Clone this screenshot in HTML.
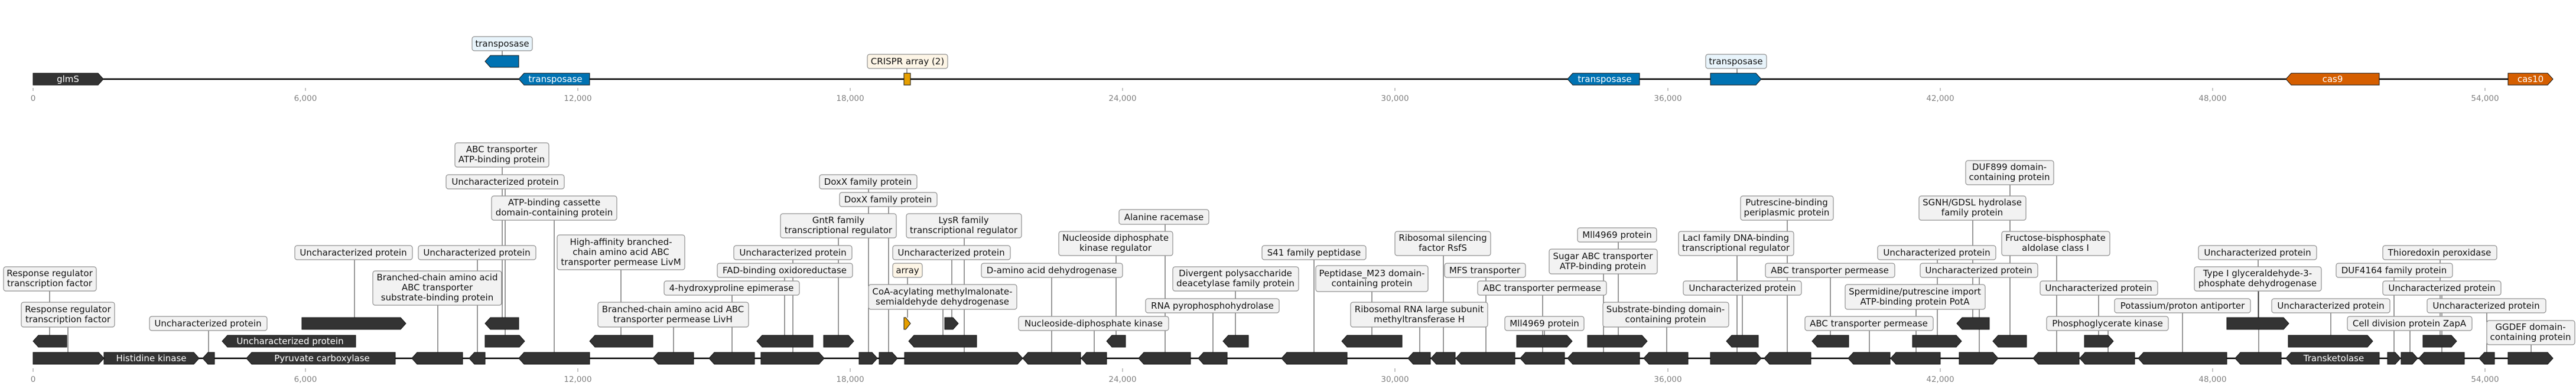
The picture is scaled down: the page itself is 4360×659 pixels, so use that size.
<!DOCTYPE html>
<html><head><meta charset="utf-8"><style>
html,body{margin:0;padding:0;background:#fff;}
svg{display:block;}
.t{font-family:"DejaVu Sans","Liberation Sans",sans-serif;font-size:15px;fill:#111;text-anchor:middle;}
.w{font-family:"DejaVu Sans","Liberation Sans",sans-serif;font-size:15px;fill:#fff;text-anchor:middle;}
.ax{font-family:"DejaVu Sans","Liberation Sans",sans-serif;font-size:13.5px;fill:#808080;text-anchor:middle;}
.g{fill:#333;stroke:#111;stroke-width:1;}
.b{fill:#f2f2f2;stroke:#8f8f8f;stroke-width:1.2;}
.bb{fill:#e8f4fb;stroke:#8f8f8f;stroke-width:1.2;}
.bc{fill:#fdf5e6;stroke:#8f8f8f;stroke-width:1.2;}
</style></head><body>
<svg width="4360" height="659" viewBox="0 0 4360 659" xmlns="http://www.w3.org/2000/svg">
<!-- backbones -->
<line x1="56" y1="134" x2="4321" y2="134" stroke="#000" stroke-width="2.5"/>
<line x1="56" y1="607" x2="4321" y2="607" stroke="#000" stroke-width="2.5"/>
<!-- ticks -->
<g stroke="#888" stroke-width="1">
<path d="M56 149V154M517 149V154M978 149V154M1439 149V154M1900 149V154M2361 149V154M2823 149V154M3284 149V154M3745 149V154M4206 149V154"/>
<path d="M56 624V630M517 624V630M978 624V630M1439 624V630M1900 624V630M2361 624V630M2823 624V630M3284 624V630M3745 624V630M4206 624V630"/>
</g>
<g class="ax">
<text x="56" y="171">0</text><text x="517" y="171">6,000</text><text x="978" y="171">12,000</text><text x="1439" y="171">18,000</text><text x="1900" y="171">24,000</text><text x="2361" y="171">30,000</text><text x="2823" y="171">36,000</text><text x="3284" y="171">42,000</text><text x="3745" y="171">48,000</text><text x="4206" y="171">54,000</text>
<text x="56" y="647">0</text><text x="517" y="647">6,000</text><text x="978" y="647">12,000</text><text x="1439" y="647">18,000</text><text x="1900" y="647">24,000</text><text x="2361" y="647">30,000</text><text x="2823" y="647">36,000</text><text x="3284" y="647">42,000</text><text x="3745" y="647">48,000</text><text x="4206" y="647">54,000</text>
</g>
<!-- connectors -->
<g stroke="#333" stroke-width="1" fill="none">
<path d="M850 86V94M1535 116V124M2940 116V124"/>
<path d="M84 493V568M115 554V597M353 560V597M600 440V538M808 440V597M741 517V597M850 283V538M855 320V568M938 373V597M1051 457V568M1140 554V597M1239 500V597M1328 470V568M1342 440V597M1419 403V568M1470 320V597M1504 350V597M1632 403V597M1611 440V538M1536 470V538M1596 524V568M1780 470V597M1852 560V597M1889 433V568M1972 380V597M2053 530V597M2091 493V568M2224 440V597M2322 494V568M2403 554V597M2443 433V597M2515 470V597M2611 500V597M2614 560V568M2739 410V568M2714 464V597M2821 554V597M2940 433V597M2949 500V568M3025 373V597M3098 470V568M3164 560V597M3243 524V597M3279 440V568M3350 470V597M3339 373V538M3402 313V568M3481 433V597M3552 500V568M3694 530V597M3568 560V597M3822 440V538M3823 493V597M3945 530V568M4130 440V568M4052 470V597M4133 500V597M4079 560V597M4209 530V597M4284 584V597"/>
</g>
<!-- top genes -->
<polygon class="g" points="56,124 166,124 175,134 166,144 56,144"/>
<polygon points="821,104 830,94 878,94 878,114 830,114" fill="#0072b2" stroke="#111"/>
<polygon points="878,134 887,124 998,124 998,144 887,144" fill="#0072b2" stroke="#111"/>
<rect x="1530" y="124" width="11" height="20" fill="#e69f00" stroke="#111"/>
<polygon points="2653,134 2662,124 2775,124 2775,144 2662,144" fill="#0072b2" stroke="#111"/>
<polygon points="2895,124 2972,124 2981,134 2972,144 2895,144" fill="#0072b2" stroke="#111"/>
<polygon points="3869,134 3878,124 4027,124 4027,144 3878,144" fill="#d55e00" stroke="#111"/>
<polygon points="4245,124 4312,124 4321,134 4312,144 4245,144" fill="#d55e00" stroke="#111"/>
<g class="w"><text x="115" y="139">glmS</text><text x="940" y="139">transposase</text><text x="2716" y="139">transposase</text><text x="3948" y="139">cas9</text><text x="4283" y="139">cas10</text></g>
<!-- bottom genes -->
<g class="g">
<polygon points="56,597 167,597 176,607 167,617 56,617"/>
<polygon points="176,597 328,597 337,607 328,617 176,617"/>
<polygon points="343,607 352,597 363,597 363,617 352,617"/>
<polygon points="417,607 426,597 669,597 669,617 426,617"/>
<polygon points="697,607 706,597 783,597 783,617 706,617"/>
<polygon points="794,607 803,597 821,597 821,617 803,617"/>
<polygon points="878,607 887,597 998,597 998,617 887,617"/>
<polygon points="1105,607 1114,597 1174,597 1174,617 1114,617"/>
<polygon points="1200,607 1209,597 1277,597 1277,617 1209,617"/>
<polygon points="1288,597 1386,597 1395,607 1386,617 1288,617"/>
<polygon points="1454,597 1476,597 1485,607 1476,617 1454,617"/>
<polygon points="1488,597 1510,597 1519,607 1510,617 1488,617"/>
<polygon points="1531,597 1722,597 1731,607 1722,617 1531,617"/>
<polygon points="1731,607 1740,597 1829,597 1829,617 1740,617"/>
<polygon points="1830,607 1839,597 1873,597 1873,617 1839,617"/>
<polygon points="1927,607 1936,597 2015,597 2015,617 1936,617"/>
<polygon points="2028,607 2037,597 2077,597 2077,617 2037,617"/>
<polygon points="2169,607 2178,597 2280,597 2280,617 2178,617"/>
<polygon points="2383,607 2392,597 2421,597 2421,617 2392,617"/>
<polygon points="2422,607 2431,597 2463,597 2463,617 2431,617"/>
<polygon points="2464,607 2473,597 2564,597 2564,617 2473,617"/>
<polygon points="2573,607 2582,597 2648,597 2648,617 2582,617"/>
<polygon points="2653,607 2662,597 2775,597 2775,617 2662,617"/>
<polygon points="2782,607 2791,597 2857,597 2857,617 2791,617"/>
<polygon points="2895,597 2972,597 2981,607 2972,617 2895,617"/>
<polygon points="2986,607 2995,597 3065,597 3065,617 2995,617"/>
<polygon points="3128,607 3137,597 3199,597 3199,617 3137,617"/>
<polygon points="3200,607 3209,597 3284,597 3284,617 3209,617"/>
<polygon points="3316,597 3373,597 3382,607 3373,617 3316,617"/>
<polygon points="3441,607 3450,597 3519,597 3519,617 3450,617"/>
<polygon points="3520,607 3529,597 3613,597 3613,617 3529,617"/>
<polygon points="3619,607 3628,597 3769,597 3769,617 3628,617"/>
<polygon points="3783,607 3792,597 3861,597 3861,617 3792,617"/>
<polygon points="3869,607 3878,597 4027,597 4027,617 3878,617"/>
<polygon points="4041,597 4054,597 4063,607 4054,617 4041,617"/>
<polygon points="4064,597 4083,597 4092,607 4083,617 4064,617"/>
<polygon points="4094,607 4103,597 4171,597 4171,617 4103,617"/>
<polygon points="4196,607 4205,597 4222,597 4222,617 4205,617"/>
<polygon points="4245,597 4312,597 4321,607 4312,617 4245,617"/>
<polygon points="56,578 65,568 113,568 113,588 65,588"/>
<polygon points="376,578 385,568 602,568 602,588 385,588"/>
<polygon points="821,568 879,568 888,578 879,588 821,588"/>
<polygon points="998,578 1007,568 1105,568 1105,588 1007,588"/>
<polygon points="1281,578 1290,568 1376,568 1376,588 1290,588"/>
<polygon points="1394,568 1436,568 1445,578 1436,588 1394,588"/>
<polygon points="1538,578 1547,568 1653,568 1653,588 1547,588"/>
<polygon points="1873,578 1882,568 1905,568 1905,588 1882,588"/>
<polygon points="2070,578 2079,568 2113,568 2113,588 2079,588"/>
<polygon points="2271,578 2280,568 2373,568 2373,588 2280,588"/>
<polygon points="2567,568 2652,568 2661,578 2652,588 2567,588"/>
<polygon points="2687,568 2779,568 2788,578 2779,588 2687,588"/>
<polygon points="2922,578 2931,568 2976,568 2976,588 2931,588"/>
<polygon points="3067,578 3076,568 3129,568 3129,588 3076,588"/>
<polygon points="3237,568 3311,568 3320,578 3311,588 3237,588"/>
<polygon points="3373,578 3382,568 3430,568 3430,588 3382,588"/>
<polygon points="3528,568 3568,568 3577,578 3568,588 3528,588"/>
<polygon points="3873,568 4007,568 4016,578 4007,588 3873,588"/>
<polygon points="4101,568 4149,568 4158,578 4149,588 4101,588"/>
<polygon points="511,538 678,538 687,548 678,558 511,558"/>
<polygon points="821,548 830,538 878,538 878,558 830,558"/>
<polygon points="1599,538 1613,538 1622,548 1613,558 1599,558"/>
<polygon points="3312,548 3321,538 3367,538 3367,558 3321,558"/>
<polygon points="3769,538 3865,538 3874,548 3865,558 3769,558"/>
</g>
<polygon points="1530,538 1533,538 1541,548 1533,558 1530,558" fill="#e69f00" stroke="#111"/>
<g class="w"><text x="256" y="612">Histidine kinase</text><text x="545" y="612">Pyruvate carboxylase</text><text x="3950" y="612">Transketolase</text><text x="491" y="583">Uncharacterized protein</text></g>
<!-- top label boxes -->
<rect class="bb" x="799" y="62" width="102" height="24" rx="4"/>
<rect class="bc" x="1468" y="92" width="136" height="24" rx="4"/>
<rect class="bb" x="2887" y="92" width="103" height="24" rx="4"/>
<g class="t"><text x="850" y="79">transposase</text><text x="1536" y="109">CRISPR array (2)</text><text x="2938" y="109">transposase</text></g>
<!-- bottom label boxes -->
<g>
<rect class="b" x="6" y="452" width="157" height="41" rx="4"/>
<rect class="b" x="36" y="512" width="158" height="42" rx="4"/>
<rect class="b" x="253" y="536" width="199" height="24" rx="4"/>
<rect class="b" x="499" y="416" width="199" height="24" rx="4"/>
<rect class="b" x="708" y="416" width="199" height="24" rx="4"/>
<rect class="b" x="631" y="459" width="218" height="58" rx="4"/>
<rect class="b" x="770" y="242" width="159" height="41" rx="4"/>
<rect class="b" x="755" y="296" width="200" height="24" rx="4"/>
<rect class="b" x="832" y="332" width="212" height="41" rx="4"/>
<rect class="b" x="943" y="398" width="216" height="59" rx="4"/>
<rect class="b" x="1012" y="512" width="255" height="42" rx="4"/>
<rect class="b" x="1124" y="476" width="229" height="24" rx="4"/>
<rect class="b" x="1214" y="446" width="229" height="24" rx="4"/>
<rect class="b" x="1242" y="416" width="200" height="24" rx="4"/>
<rect class="b" x="1321" y="362" width="196" height="41" rx="4"/>
<rect class="b" x="1387" y="296" width="165" height="24" rx="4"/>
<rect class="b" x="1421" y="326" width="165" height="24" rx="4"/>
<rect class="b" x="1534" y="362" width="195" height="41" rx="4"/>
<rect class="b" x="1511" y="416" width="199" height="24" rx="4"/>
<rect class="bc" x="1511" y="446" width="50" height="24" rx="4"/>
<rect class="b" x="1470" y="482" width="251" height="42" rx="4"/>
<rect class="b" x="1661" y="446" width="239" height="24" rx="4"/>
<rect class="b" x="1724" y="536" width="254" height="24" rx="4"/>
<rect class="b" x="1792" y="392" width="193" height="41" rx="4"/>
<rect class="b" x="1894" y="355" width="152" height="25" rx="4"/>
<rect class="b" x="1939" y="506" width="226" height="24" rx="4"/>
<rect class="b" x="1985" y="452" width="213" height="41" rx="4"/>
<rect class="b" x="2136" y="416" width="176" height="24" rx="4"/>
<rect class="b" x="2227" y="450" width="190" height="44" rx="4"/>
<rect class="b" x="2286" y="512" width="232" height="42" rx="4"/>
<rect class="b" x="2361" y="392" width="162" height="41" rx="4"/>
<rect class="b" x="2445" y="446" width="137" height="24" rx="4"/>
<rect class="b" x="2501" y="476" width="218" height="24" rx="4"/>
<rect class="b" x="2547" y="536" width="134" height="24" rx="4"/>
<rect class="b" x="2670" y="386" width="134" height="24" rx="4"/>
<rect class="b" x="2622" y="422" width="183" height="42" rx="4"/>
<rect class="b" x="2713" y="512" width="213" height="42" rx="4"/>
<rect class="b" x="2841" y="392" width="195" height="41" rx="4"/>
<rect class="b" x="2849" y="476" width="200" height="24" rx="4"/>
<rect class="b" x="2946" y="332" width="157" height="41" rx="4"/>
<rect class="b" x="2988" y="446" width="219" height="24" rx="4"/>
<rect class="b" x="3055" y="536" width="217" height="24" rx="4"/>
<rect class="b" x="3123" y="482" width="237" height="42" rx="4"/>
<rect class="b" x="3178" y="416" width="200" height="24" rx="4"/>
<rect class="b" x="3250" y="446" width="199" height="24" rx="4"/>
<rect class="b" x="3248" y="332" width="181" height="41" rx="4"/>
<rect class="b" x="3327" y="272" width="149" height="41" rx="4"/>
<rect class="b" x="3388" y="392" width="183" height="41" rx="4"/>
<rect class="b" x="3453" y="476" width="199" height="24" rx="4"/>
<rect class="b" x="3579" y="506" width="230" height="24" rx="4"/>
<rect class="b" x="3464" y="536" width="206" height="24" rx="4"/>
<rect class="b" x="3721" y="416" width="200" height="24" rx="4"/>
<rect class="b" x="3714" y="452" width="215" height="41" rx="4"/>
<rect class="b" x="3845" y="506" width="200" height="24" rx="4"/>
<rect class="b" x="4033" y="416" width="193" height="24" rx="4"/>
<rect class="b" x="3954" y="446" width="197" height="24" rx="4"/>
<rect class="b" x="4033" y="476" width="200" height="24" rx="4"/>
<rect class="b" x="3973" y="536" width="211" height="24" rx="4"/>
<rect class="b" x="4108" y="506" width="201" height="24" rx="4"/>
<rect class="b" x="4209" y="543" width="149" height="41" rx="4"/>
</g>
<g class="t">
<text x="84" y="468">Response regulator</text><text x="84" y="485">transcription factor</text>
<text x="115" y="529">Response regulator</text><text x="115" y="546">transcription factor</text>
<text x="352" y="553">Uncharacterized protein</text>
<text x="598" y="433">Uncharacterized protein</text>
<text x="807" y="433">Uncharacterized protein</text>
<text x="740" y="475">Branched-chain amino acid</text><text x="740" y="492">ABC transporter</text><text x="740" y="509">substrate-binding protein</text>
<text x="849" y="258">ABC transporter</text><text x="849" y="275">ATP-binding protein</text>
<text x="855" y="313">Uncharacterized protein</text>
<text x="938" y="348">ATP-binding cassette</text><text x="938" y="365">domain-containing protein</text>
<text x="1051" y="415">High-affinity branched-</text><text x="1051" y="432">chain amino acid ABC</text><text x="1051" y="449">transporter permease LivM</text>
<text x="1139" y="529">Branched-chain amino acid ABC</text><text x="1139" y="546">transporter permease LivH</text>
<text x="1238" y="493">4-hydroxyproline epimerase</text>
<text x="1328" y="463">FAD-binding oxidoreductase</text>
<text x="1342" y="433">Uncharacterized protein</text>
<text x="1419" y="378">GntR family</text><text x="1419" y="395">transcriptional regulator</text>
<text x="1469" y="313">DoxX family protein</text>
<text x="1503" y="343">DoxX family protein</text>
<text x="1631" y="378">LysR family</text><text x="1631" y="395">transcriptional regulator</text>
<text x="1610" y="433">Uncharacterized protein</text>
<text x="1536" y="463">array</text>
<text x="1595" y="499">CoA-acylating methylmalonate-</text><text x="1595" y="516">semialdehyde dehydrogenase</text>
<text x="1780" y="463">D-amino acid dehydrogenase</text>
<text x="1851" y="553">Nucleoside-diphosphate kinase</text>
<text x="1888" y="408">Nucleoside diphosphate</text><text x="1888" y="425">kinase regulator</text>
<text x="1970" y="373">Alanine racemase</text>
<text x="2052" y="523">RNA pyrophosphohydrolase</text>
<text x="2091" y="468">Divergent polysaccharide</text><text x="2091" y="485">deacetylase family protein</text>
<text x="2224" y="433">S41 family peptidase</text>
<text x="2322" y="468">Peptidase_M23 domain-</text><text x="2322" y="485">containing protein</text>
<text x="2402" y="529">Ribosomal RNA large subunit</text><text x="2402" y="546">methyltransferase H</text>
<text x="2442" y="408">Ribosomal silencing</text><text x="2442" y="425">factor RsfS</text>
<text x="2513" y="463">MFS transporter</text>
<text x="2610" y="493">ABC transporter permease</text>
<text x="2614" y="553">Mll4969 protein</text>
<text x="2737" y="403">Mll4969 protein</text>
<text x="2713" y="439">Sugar ABC transporter</text><text x="2713" y="456">ATP-binding protein</text>
<text x="2819" y="529">Substrate-binding domain-</text><text x="2819" y="546">containing protein</text>
<text x="2938" y="408">LacI family DNA-binding</text><text x="2938" y="425">transcriptional regulator</text>
<text x="2949" y="493">Uncharacterized protein</text>
<text x="3024" y="348">Putrescine-binding</text><text x="3024" y="365">periplasmic protein</text>
<text x="3097" y="463">ABC transporter permease</text>
<text x="3163" y="553">ABC transporter permease</text>
<text x="3241" y="499">Spermidine/putrescine import</text><text x="3241" y="516">ATP-binding protein PotA</text>
<text x="3278" y="433">Uncharacterized protein</text>
<text x="3349" y="463">Uncharacterized protein</text>
<text x="3338" y="348">SGNH/GDSL hydrolase</text><text x="3338" y="365">family protein</text>
<text x="3401" y="288">DUF899 domain-</text><text x="3401" y="305">containing protein</text>
<text x="3479" y="408">Fructose-bisphosphate</text><text x="3479" y="425">aldolase class I</text>
<text x="3552" y="493">Uncharacterized protein</text>
<text x="3694" y="523">Potassium/proton antiporter</text>
<text x="3567" y="553">Phosphoglycerate kinase</text>
<text x="3821" y="433">Uncharacterized protein</text>
<text x="3821" y="468">Type I glyceraldehyde-3-</text><text x="3821" y="485">phosphate dehydrogenase</text>
<text x="3945" y="523">Uncharacterized protein</text>
<text x="4129" y="433">Thioredoxin peroxidase</text>
<text x="4052" y="463">DUF4164 family protein</text>
<text x="4133" y="493">Uncharacterized protein</text>
<text x="4078" y="553">Cell division protein ZapA</text>
<text x="4208" y="523">Uncharacterized protein</text>
<text x="4283" y="559">GGDEF domain-</text><text x="4283" y="576">containing protein</text>
</g>
</svg>
</body></html>
